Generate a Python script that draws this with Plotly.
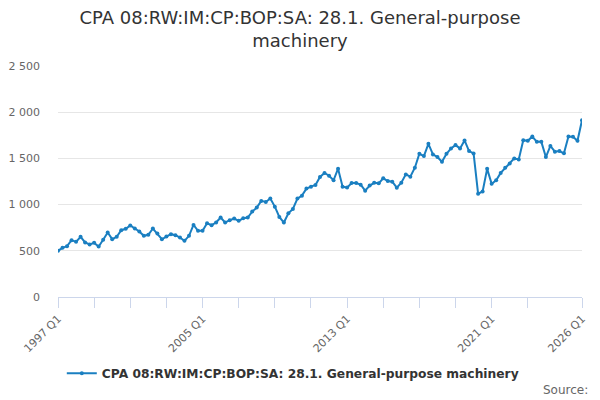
import plotly.graph_objects as go

years = list(range(1997, 2027))
quarters = [f"{y} Q{q}" for y in years for q in range(1, 5)][:117]

values = [
    500, 532, 550, 615, 597, 651, 590, 568, 586, 547,
    619, 698, 626, 651, 723, 738, 774, 741, 709, 662,
    673, 741, 687, 625, 654, 680, 669, 644, 608, 662,
    780, 716, 716, 798, 777, 806, 860, 806, 831, 849,
    824, 852, 860, 924, 968, 1040, 1028, 1066, 978, 867,
    806, 906, 953, 1065, 1097, 1173, 1194, 1212, 1299, 1342,
    1313, 1263, 1389, 1194, 1184, 1234, 1234, 1216, 1151, 1206,
    1236, 1230, 1284, 1255, 1248, 1183, 1237, 1327, 1302, 1399,
    1550, 1525, 1658, 1543, 1514, 1464, 1550, 1608, 1644, 1608,
    1694, 1579, 1554, 1118, 1142, 1387, 1226, 1263, 1343, 1398,
    1445, 1500, 1489, 1697, 1690, 1737, 1679, 1679, 1515, 1635,
    1573, 1580, 1555, 1737, 1734, 1690, 1912,
]

series_name = "CPA 08:RW:IM:CP:BOP:SA: 28.1. General-purpose machinery"
title_text = "CPA 08:RW:IM:CP:BOP:SA: 28.1. General-purpose<br>machinery"

tick_idx = list(range(0, 112, 8)) + [116]
label_idx = [0, 32, 64, 96, 116]
tickvals = [quarters[i] for i in tick_idx]
ticktext = [quarters[i] if i in label_idx else "" for i in tick_idx]

y_ticks = [0, 500, 1000, 1500, 2000, 2500]

color = "#1a7fc1"
font_family = "DejaVu Sans"

fig = go.Figure()
fig.add_trace(go.Scatter(
    x=quarters, y=values, mode="lines+markers", name=series_name,
    line=dict(color=color, width=2),
    marker=dict(color=color, size=4),
))

fig.update_layout(
    width=600, height=400,
    paper_bgcolor="white", plot_bgcolor="white",
    separators=". ",
    font=dict(family=font_family, color="#666666", size=11),
    margin=dict(l=58, r=18, t=66, b=103, autoexpand=False),
    title=dict(text=title_text, x=0.5, xref="container", xanchor="center",
               y=0.94, yref="container", yanchor="top",
               font=dict(family=font_family, size=18, color="#333333")),
    showlegend=True,
    legend=dict(orientation="h", x=0.488, xanchor="center", xref="container",
                y=-0.33, yanchor="middle", itemwidth=30,
                font=dict(family=font_family, size=12.25, color="#333333", weight="bold")),
    annotations=[dict(text="Source:", xref="paper", yref="paper",
                      x=1.015, y=-0.403, xanchor="right", yanchor="middle",
                      showarrow=False,
                      font=dict(family=font_family, size=12, color="#666666"))],
)

fig.update_xaxes(
    type="category", range=[0, 116],
    tickmode="array", tickvals=tickvals, ticktext=ticktext,
    tickangle=-45, ticks="outside", ticklen=10, tickcolor="#ccd6eb", tickwidth=1,
    showline=True, linecolor="#ccd6eb", linewidth=1,
    showgrid=False, zeroline=False,
    tickfont=dict(family=font_family, size=11, color="#666666"),
)
fig.update_yaxes(
    range=[0, 2500], tickmode="array", tickvals=y_ticks,
    tickformat=",d", showgrid=True, gridcolor="#e6e6e6", gridwidth=1,
    zeroline=False, showline=False, ticks="", ticklabelstandoff=17,
    tickfont=dict(family=font_family, size=11, color="#666666"),
)

fig.write_html("out.html", config={"displayModeBar": False},
               post_script="document.body.style.margin='0px';")
